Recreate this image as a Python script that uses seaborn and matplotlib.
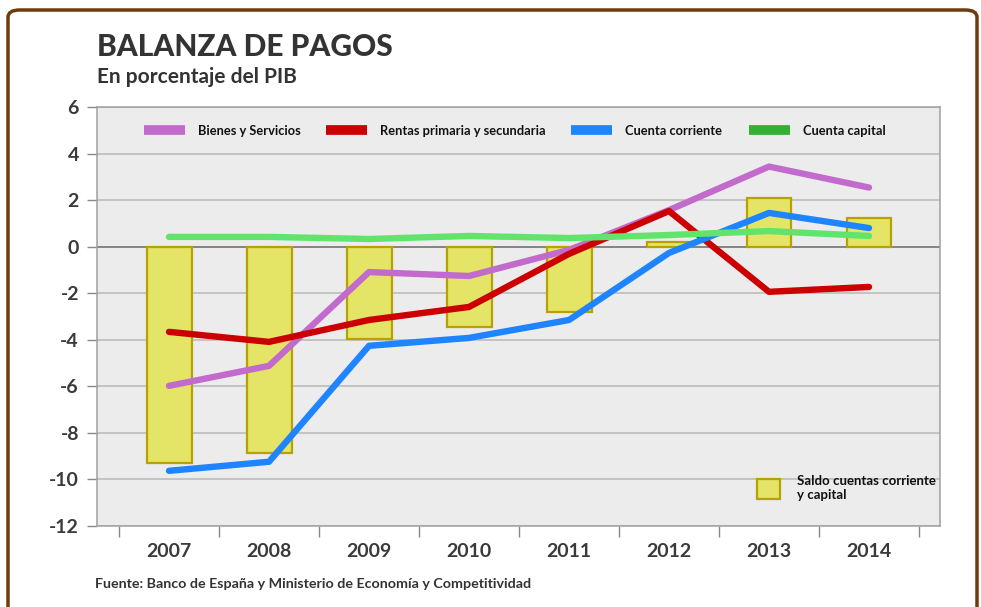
import numpy as np
import pandas as pd
import matplotlib
matplotlib.use("Agg")
import matplotlib.pyplot as plt
from matplotlib.patches import FancyBboxPatch, Patch
from matplotlib.lines import Line2D
import seaborn as sns

years = ["2007", "2008", "2009", "2010", "2011", "2012", "2013", "2014"]
saldo = [-9.28, -8.85, -3.96, -3.45, -2.80, 0.20, 2.10, 1.23]
bienes = [-5.98, -5.12, -1.09, -1.26, -0.14, 1.57, 3.44, 2.54]
rentas = [-3.66, -4.09, -3.15, -2.59, -0.31, 1.53, -1.94, -1.73]
corriente = [-9.63, -9.24, -4.26, -3.92, -3.15, -0.27, 1.45, 0.80]
capital = [0.42, 0.42, 0.33, 0.46, 0.37, 0.50, 0.67, 0.46]
yticks = [-12, -10, -8, -6, -4, -2, 0, 2, 4, 6]

series_names = ["Bienes y Servicios", "Rentas primaria y secundaria",
                "Cuenta corriente", "Cuenta capital"]
line_colors = ["#c26bcc", "#cc0000", "#1e84ff", "#62e46c"]
legend_colors = ["#c26bcc", "#cc0000", "#1e84ff", "#33b033"]

sns.set_theme(style="white")
plt.rcParams['font.family'] = ['Lato', 'DejaVu Sans']

fig = plt.figure(figsize=(9.81, 6.07), dpi=100)
ax = fig.add_axes([97/981, 1-526/607, (940-97)/981, (526-107)/607])
ax.set_facecolor("#ececec")

# Frame
frame = FancyBboxPatch((8/981, -0.2), (977-8)/981, 1.2 - 10/607,
                       boxstyle="round,pad=0,rounding_size=0.012",
                       transform=fig.transFigure, fill=False,
                       edgecolor="#6e3b0c", linewidth=2.5, clip_on=False)
fig.patches.append(frame)

df_bar = pd.DataFrame({"year": years, "saldo": saldo})
sns.barplot(data=df_bar, x="year", y="saldo", ax=ax, color="#e4e467",
            width=0.45, edgecolor="#b8a200", linewidth=1.6, saturation=1,
            zorder=3)

pos = np.arange(len(years))
df_lines = pd.DataFrame({
    "pos": np.tile(pos, 4),
    "value": bienes + rentas + corriente + capital,
    "serie": np.repeat(series_names, len(years)),
})
sns.lineplot(data=df_lines, x="pos", y="value", hue="serie",
             palette=dict(zip(series_names, line_colors)), ax=ax,
             linewidth=4.6, legend=False, zorder=4, sort=False)

ax.set_xlim(-0.72, 7.71)
ax.set_ylim(-12, 6)
ax.set_yticks(yticks)
ax.set_yticklabels([str(v) for v in yticks], fontsize=14, fontweight="bold",
                   color="#3a3a3a")
ax.set_xticks(pos)
ax.set_xticklabels(years, fontsize=14, fontweight="bold", color="#3a3a3a")
ax.set_xticks(np.arange(-0.5, 8.0, 1.0), minor=True)
ax.tick_params(axis="x", which="major", length=0, pad=12)
ax.tick_params(axis="x", which="minor", length=8, color="#888888", width=1,
               direction="out", bottom=True)
ax.tick_params(axis="y", which="major", length=7, color="#888888", width=1,
               direction="out", left=True, pad=6)
ax.set_xlabel("")
ax.set_ylabel("")
ax.grid(axis="y", color="#b8b8b8", linewidth=1.1, zorder=0)
ax.set_axisbelow(True)
ax.axhline(0, color="#808080", linewidth=1.3, zorder=2)
for s in ["left", "right", "top", "bottom"]:
    ax.spines[s].set_visible(True)
    ax.spines[s].set_color("#a0a0a0")
    ax.spines[s].set_linewidth(1.1)

# Top legend: one entry per legend so that each sits where the reference has it
legend_x = [144, 326, 571, 749]
for name, col, lx in zip(series_names, legend_colors, legend_x):
    h = Line2D([0], [0], color=col, linewidth=7, solid_capstyle="butt")
    lg = fig.legend([h], [name], loc="center left",
                    bbox_to_anchor=(lx/981, 1-131/607), frameon=False,
                    fontsize=9.3, handlelength=3.2, handletextpad=1.0,
                    borderpad=0, borderaxespad=0)
    for t in lg.get_texts():
        t.set_fontweight("bold")
        t.set_color("#111111")

bar_handle = Patch(facecolor="#e4e467", edgecolor="#b8a200", linewidth=1.6)
leg2 = fig.legend([bar_handle], ["Saldo cuentas corriente\ny capital"],
                  loc="center left", bbox_to_anchor=(757/981, 1-488/607),
                  frameon=False, fontsize=9.5, handlelength=1.75,
                  handleheight=1.9, handletextpad=1.3, borderpad=0,
                  borderaxespad=0)
for t in leg2.get_texts():
    t.set_fontweight("bold")
    t.set_color("#111111")

fig.text(97/981, 1-47/607, "BALANZA DE PAGOS", fontsize=21.5, fontweight="black",
         color="#333333", va="center", ha="left")
fig.text(97/981, 1-77/607, "En porcentaje del PIB", fontsize=15,
         fontweight="bold", color="#333333", va="center", ha="left")
fig.text(95/981, 1-584/607,
         "Fuente: Banco de España y Ministerio de Economía y Competitividad",
         fontsize=10.3, fontweight="bold", color="#333333", va="center",
         ha="left")

fig.savefig("out.png", dpi=100, facecolor="white")
